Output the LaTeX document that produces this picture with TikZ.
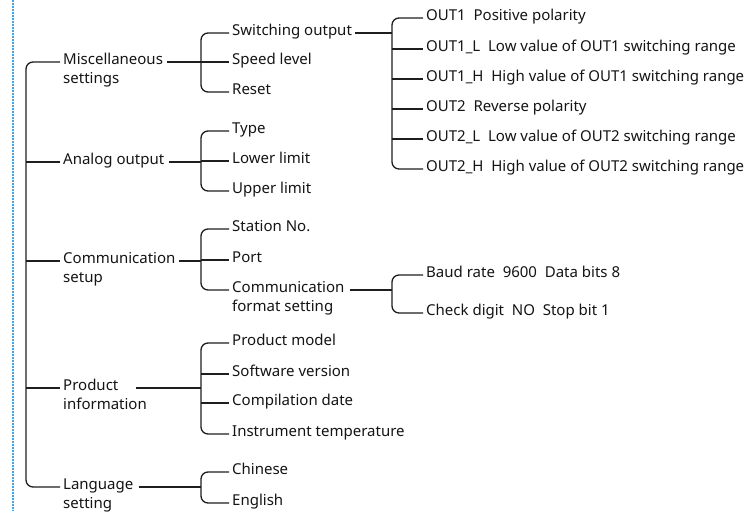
\documentclass[tikz,border=0pt]{standalone}
\usepackage{fontspec}
\setmainfont{Noto Sans}
\begin{document}
\begin{tikzpicture}[x=1pt,y=-1pt,
  lbl/.style={inner sep=3pt, anchor=mid west, text=txt, font=\fontsize{15}{17}\selectfont},
  conn/.style={draw=lin, line width=1.3pt},
  brk/.style={conn, rounded corners=7pt}]
\definecolor{txt}{RGB}{20,20,20}
\definecolor{lin}{RGB}{30,30,30}
\definecolor{dotblue}{RGB}{70,165,230}
\useasboundingbox (0,0) rectangle (749,511);
\draw[dotblue, line width=2pt, dash pattern=on 2pt off 1pt] (12.5,0) -- (12.5,511);
\coordinate (rootx) at (26,0);
\coordinate (ba) at (201,0);
\coordinate (bb) at (392,0);
% level 1
\node[lbl] (misc) at (60,62) {Miscellaneous};
\node[lbl] (misc2) at (60,81) {settings};
\node[lbl] (ana) at (60,162) {Analog output};
\node[lbl] (comm) at (60,261) {Communication};
\node[lbl] (comm2) at (60,280) {setup};
\node[lbl] (prod) at (60,388) {Product};
\node[lbl] (prod2) at (60,407) {information};
\node[lbl] (lang) at (60,487) {Language};
\node[lbl] (lang2) at (60,506) {setting};
% level 2
\node[lbl] (sw) at (229,33) {Switching output};
\node[lbl] (spd) at (229,62) {Speed level};
\node[lbl] (rst) at (229,92) {Reset};
\node[lbl] (typ) at (229,131) {Type};
\node[lbl] (low) at (229,161) {Lower limit};
\node[lbl] (up) at (229,191) {Upper limit};
\node[lbl] (stn) at (229,229) {Station No.};
\node[lbl] (prt) at (229,260) {Port};
\node[lbl] (fmt) at (229,290) {Communication};
\node[lbl] (fmt2) at (229,309) {format setting};
\node[lbl] (pm) at (229,343) {Product model};
\node[lbl] (sv) at (229,374) {Software version};
\node[lbl] (cd) at (229,403) {Compilation date};
\node[lbl] (it) at (229,434) {Instrument temperature};
\node[lbl] (chn) at (229,472) {Chinese};
\node[lbl] (eng) at (229,503) {English};
% level 3
\node[lbl] (o1) at (423,18) {OUT1~~Positive polarity};
\node[lbl] (o1l) at (423,49) {OUT1\_L~~Low value of OUT1 switching range};
\node[lbl] (o1h) at (423,79) {OUT1\_H~~High value of OUT1 switching range};
\node[lbl] (o2) at (423,109) {OUT2~~Reverse polarity};
\node[lbl] (o2l) at (423,139) {OUT2\_L~~Low value of OUT2 switching range};
\node[lbl] (o2h) at (423,169) {OUT2\_H~~High value of OUT2 switching range};
\node[lbl] (baud) at (423,275) {Baud rate~~9600~~Data bits 8};
\node[lbl] (chk) at (423,313) {Check digit~~NO~~Stop bit 1};
% root
\draw[brk] (misc.mid west) -| (rootx |- comm.mid west) |- (lang.mid west);
\draw[conn] (rootx |- ana.mid west) -- (ana.mid west);
\draw[conn] (rootx |- comm.mid west) -- (comm.mid west);
\draw[conn] (rootx |- prod.mid west) -- (prod.mid west);
% misc
\draw[conn] ([xshift=1pt]misc.mid east) -- (ba |- misc.mid east);
\draw[brk] (sw.mid west) -| (ba |- spd.mid west) |- (rst.mid west);
\draw[conn] (ba |- spd.mid west) -- (spd.mid west);
% analog
\draw[conn] ([xshift=2pt]ana.mid east) -- (ba |- ana.mid east);
\draw[brk] (typ.mid west) -| (ba |- low.mid west) |- (up.mid west);
\draw[conn] (ba |- low.mid west) -- (low.mid west);
% comm
\draw[conn] (comm.mid east) -- (ba |- comm.mid east);
\draw[brk] (stn.mid west) -| (ba |- prt.mid west) |- (fmt.mid west);
\draw[conn] (ba |- prt.mid west) -- (prt.mid west);
% product
\draw[conn] ([xshift=14pt]prod.mid east) -- (ba |- prod.mid east);
\draw[brk] (pm.mid west) -| (ba |- prod.mid east) |- (it.mid west);
\draw[conn] (ba |- sv.mid west) -- (sv.mid west);
\draw[conn] (ba |- cd.mid west) -- (cd.mid west);
% language
\draw[conn] ([xshift=2pt]lang.mid east) -- (ba |- lang.mid east);
\draw[brk] (chn.mid west) -| (ba |- lang.mid east) |- (eng.mid west);
% switching
\draw[conn] (sw.mid east) -- (bb |- sw.mid east);
\draw[brk] (o1.mid west) -| (bb |- o2.mid west) |- (o2h.mid west);
\foreach \n in {o1l,o1h,o2,o2l} \draw[conn] (bb |- \n.mid west) -- (\n.mid west);
% format
\draw[conn] ([xshift=2pt]fmt.mid east) -- (bb |- fmt.mid east);
\draw[brk] (baud.mid west) -| (bb |- fmt.mid east) |- (chk.mid west);
\end{tikzpicture}
\end{document}
